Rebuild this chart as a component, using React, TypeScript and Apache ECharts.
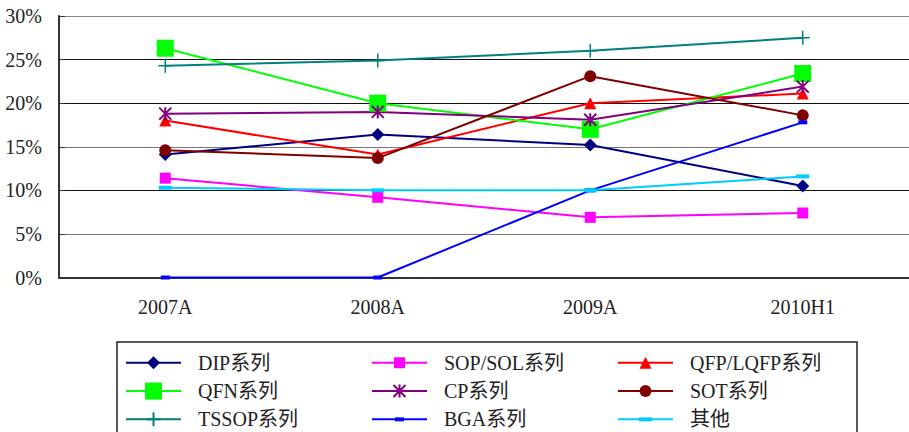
import { useEffect, useRef } from 'react';
import * as echarts from 'echarts';

// Periods on the category axis
const categories = ['2007A', '2008A', '2009A', '2010H1'];

// Share of each package family, in percent
const dipValues = [14.1, 16.4, 15.2, 10.5];
const sopValues = [11.4, 9.2, 6.9, 7.4];
const qfpValues = [18.0, 14.1, 20.0, 21.1];
const qfnValues = [26.3, 20.0, 17.0, 23.4];
const cpValues = [18.8, 19.0, 18.1, 21.9];
const sotValues = [14.6, 13.7, 23.1, 18.6];
const tssopValues = [24.3, 24.9, 26.0, 27.5];
const bgaValues = [0, 0, 10.0, 17.8];
const otherValues = [10.3, 10.0, 10.0, 11.6];

// Series names as shown in the legend
const seriesNames = [
  'DIP系列', 'SOP/SOL系列', 'QFP/LQFP系列',
  'QFN系列', 'CP系列', 'SOT系列',
  'TSSOP系列', 'BGA系列', '其他',
];

const FONT = "'Liberation Serif', 'Noto Sans CJK SC', serif";

// Every marker is drawn inside the same 18x18 frame (the zero-length moves at
// the corners pin the frame), so chart markers and legend icons keep their
// relative sizes.
const FRAME = 18;
const framed = (d: string) => `path://M0,0L0,0${d}M${FRAME},${FRAME}L${FRAME},${FRAME}`;

type Style = { color: string; symbol: string; stroke?: number };

const styles: Style[] = [
  { color: '#000080', symbol: framed('M9,2.5L15.5,9L9,15.5L2.5,9Z') },
  { color: '#FF00FF', symbol: framed('M3.5,3.5h11v11h-11Z') },
  { color: '#FF0000', symbol: framed('M9,3L15,15L3,15Z') },
  { color: '#00FF00', symbol: framed('M0.5,0.5h17v17h-17Z') },
  { color: '#800080', symbol: framed('M3,3L15,15M15,3L3,15M9,2.5L9,15.5'), stroke: 2 },
  { color: '#800000', symbol: framed('M3,9A6,6 0 1 1 15,9A6,6 0 1 1 3,9Z') },
  { color: '#008080', symbol: framed('M9,2L9,16M2,9L16,9'), stroke: 1.5 },
  { color: '#0000FF', symbol: framed('M4.5,7h9v4h-9Z') },
  { color: '#00CCFF', symbol: framed('M2.5,7h13v4h-13Z') },
];

const valueLists = [
  dipValues, sopValues, qfpValues,
  qfnValues, cpValues, sotValues,
  tssopValues, bgaValues, otherValues,
];

export default function App() {
  const ref = useRef<HTMLDivElement>(null);

  useEffect(() => {
    document.body.style.margin = '0';
    if (!ref.current) return;
    const chart = echarts.init(ref.current, null, { renderer: 'svg' });

    const series = seriesNames.map((name, i) => {
      const s = styles[i];
      return {
        name,
        type: 'line',
        data: valueLists[i],
        symbol: s.symbol,
        symbolSize: FRAME,
        showAllSymbol: true,
        lineStyle: { color: s.color, width: 2 },
        itemStyle: s.stroke
          ? { color: s.color, borderColor: s.color, borderWidth: s.stroke }
          : { color: s.color, borderWidth: 0 },
        emphasis: { disabled: true },
      };
    });

    const legendBase = {
      orient: 'vertical',
      padding: 0,
      itemWidth: 55,
      itemHeight: FRAME / 0.8,
      itemGap: 8.3,
      top: 352.75,
      selectedMode: false,
      textStyle: {
        fontFamily: FONT,
        fontSize: 20,
        color: '#222',
        lineHeight: 20,
        padding: [0, 0, 0, 12],
      },
    };

    chart.setOption({
      animation: false,
      backgroundColor: '#fff',
      textStyle: { fontFamily: FONT },
      grid: { left: 59, top: 16, width: 856, height: 261.5, containLabel: false },
      legend: [
        { ...legendBase, left: 125, data: [seriesNames[0], seriesNames[3], seriesNames[6]] },
        { ...legendBase, left: 371, data: [seriesNames[1], seriesNames[4], seriesNames[7]] },
        { ...legendBase, left: 617, data: [seriesNames[2], seriesNames[5], seriesNames[8]] },
      ],
      xAxis: {
        type: 'category',
        data: categories,
        boundaryGap: true,
        axisLine: { lineStyle: { color: '#333', width: 2 } },
        axisTick: { inside: true, length: 5, lineStyle: { color: '#333' } },
        axisLabel: { fontFamily: FONT, fontSize: 20, color: '#222', margin: 19 },
        splitLine: { show: false },
      },
      yAxis: {
        type: 'value',
        min: 0,
        max: 30,
        interval: 5,
        axisLine: { show: true, lineStyle: { color: '#333', width: 2 } },
        axisTick: { show: true, inside: true, length: 6, lineStyle: { color: '#333' } },
        axisLabel: {
          formatter: '{value}%',
          fontFamily: FONT,
          fontSize: 20,
          color: '#222',
          margin: 17,
        },
        splitLine: {
          show: true,
          lineStyle: {
            color: ['#333', '#777', '#111', '#777', '#111', '#111', '#888'],
            width: 1,
          },
        },
      },
      graphic: [
        {
          type: 'rect',
          shape: { x: 117, y: 342, width: 740, height: 120 },
          style: { fill: 'none', stroke: '#222', lineWidth: 1.5 },
          silent: true,
        },
      ],
      series,
    });

    return () => chart.dispose();
  }, []);

  return <div ref={ref} style={{ width: 909, height: 432 }} />;
}
